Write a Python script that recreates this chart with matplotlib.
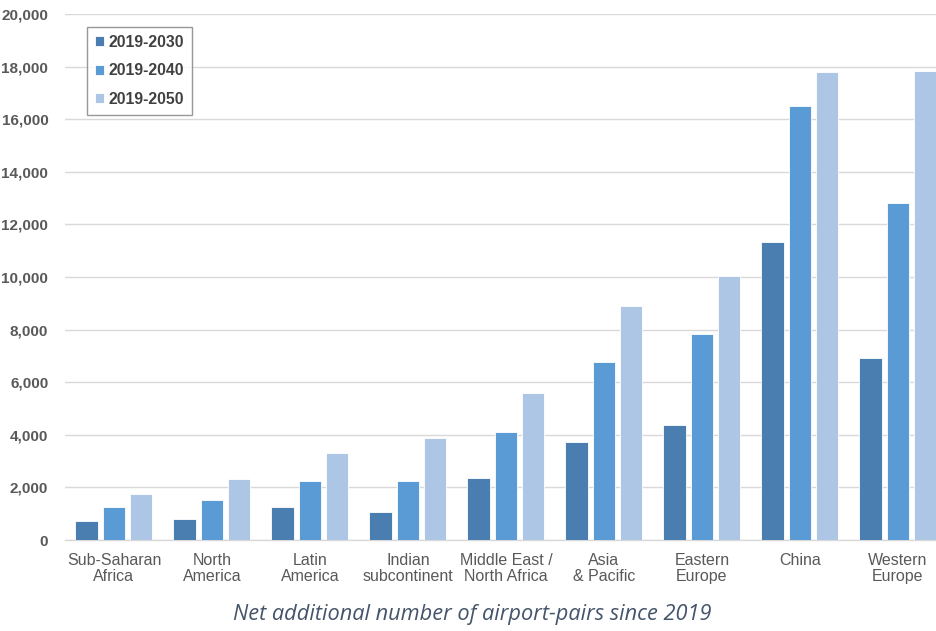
import numpy as np
import matplotlib.pyplot as plt
from matplotlib.ticker import FuncFormatter

regions = ['Sub-Saharan\nAfrica', 'North\nAmerica', 'Latin\nAmerica', 'Indian\nsubcontinent',
           'Middle East /\nNorth Africa', 'Asia\n& Pacific', 'Eastern\nEurope', 'China',
           'Western\nEurope']
series_names = ['2019-2030', '2019-2040', '2019-2050']
pairs_2030 = [710, 800, 1270, 1080, 2360, 3740, 4370, 11330, 6920]
pairs_2040 = [1240, 1510, 2250, 2230, 4100, 6760, 7830, 16490, 12810]
pairs_2050 = [1760, 2310, 3300, 3890, 5580, 8900, 10040, 17780, 17840]
colors = ['#4a7eb0', '#5b9bd5', '#adc6e6']

plt.rcParams['font.family'] = ['Liberation Sans', 'DejaVu Sans']

fig = plt.figure(figsize=(9.36, 6.31), dpi=100)
# axes runs slightly past the right edge of the figure
ax = fig.add_axes([0.0694, 0.1442, 0.9423, 0.8336])

x = np.arange(len(regions))
width = 0.225
offsets = [-0.28, 0.0, 0.28]
for vals, off, col, name in zip([pairs_2030, pairs_2040, pairs_2050], offsets, colors, series_names):
    ax.bar(x + off, vals, width, color=col, edgecolor='white', linewidth=0.6, label=name, zorder=3)

ax.set_xlim(-0.5, len(regions) - 0.5)
ax.set_ylim(0, 20000)
ax.set_yticks(np.arange(0, 20001, 2000))
ax.yaxis.set_major_formatter(FuncFormatter(lambda v, p: f'{int(v):,}'))
ax.grid(axis='y', color='#d9d9d9', linewidth=1.0, zorder=0)
ax.set_axisbelow(True)

for side in ['top', 'right', 'left']:
    ax.spines[side].set_visible(False)
ax.spines['bottom'].set_color('#d9d9d9')
ax.spines['bottom'].set_linewidth(1.0)

ax.set_xticks(x)
ax.set_xticklabels(regions, fontsize=11.5, color='#595959', linespacing=1.1)
ax.tick_params(axis='x', length=0, pad=9)
ax.tick_params(axis='y', length=0, pad=12, labelsize=11, labelcolor='#595959')
for lbl in ax.get_yticklabels():
    lbl.set_fontweight('bold')

leg = ax.legend(loc='upper left', bbox_to_anchor=(0.025, 0.975), borderaxespad=0, frameon=True,
                fancybox=False, prop={'weight': 'bold', 'size': 11.3}, handlelength=0.6,
                handleheight=0.6, handletextpad=0.3, labelspacing=0.85, borderpad=0.5,
                labelcolor='#404040')
leg.get_frame().set_edgecolor('#7f7f7f')
leg.get_frame().set_linewidth(1.0)

fig.text(0.505, 0.026, 'Net additional number of airport-pairs since 2019', ha='center', va='center',
         fontsize=15.7, style='italic', color='#44546a', family=['Open Sans', 'DejaVu Sans'])

fig.savefig('out.png', dpi=100)
